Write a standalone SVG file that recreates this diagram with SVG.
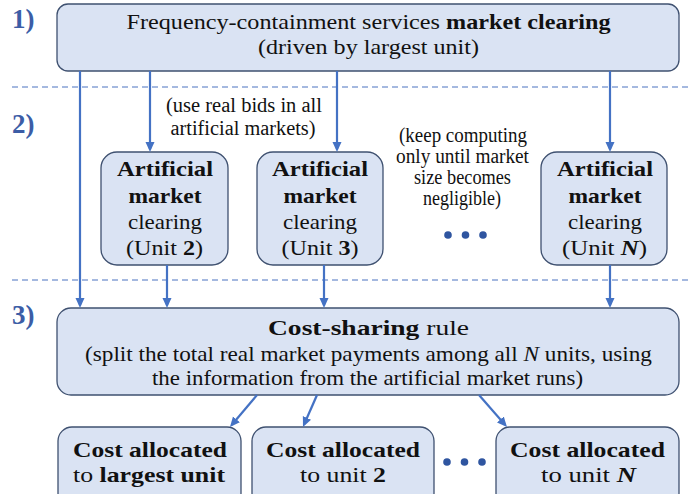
<svg xmlns="http://www.w3.org/2000/svg" width="688" height="494" viewBox="0 0 688 494" font-family="Liberation Serif, serif">
<style>
text{fill:#111;text-anchor:middle}
.box{fill:#dae3f3;stroke:#3f5170;stroke-width:1.3}
.t22{font-size:22px}
.t20{font-size:20px}
.b{font-weight:bold}
.i{font-style:italic}
.dot{fill:#2f55a0}
</style>
<defs>
<marker id="ah" markerUnits="userSpaceOnUse" markerWidth="11" markerHeight="10" refX="7" refY="4.5" orient="auto">
<path d="M0,0 L10,4.5 L0,9 z" fill="#4472c4"/>
</marker>
</defs>
<rect width="688" height="494" fill="#fff"/>

<g id="separators" stroke="#4a72c0" stroke-width="1" stroke-dasharray="6 4" fill="none">
<line x1="12" y1="87" x2="688" y2="87"/>
<line x1="12" y1="280" x2="688" y2="280"/>
</g>

<g id="step-labels" font-family="Liberation Serif, serif" font-size="27" font-weight="bold">
<text x="12" y="28" fill="#3c5da6" text-anchor="start" style="fill:#3c5da6;text-anchor:start">1)</text>
<text x="12" y="133" fill="#3c5da6" text-anchor="start" style="fill:#3c5da6;text-anchor:start">2)</text>
<text x="12" y="324" fill="#3c5da6" text-anchor="start" style="fill:#3c5da6;text-anchor:start">3)</text>
</g>

<g id="n-market" font-family="Liberation Serif, serif">
<rect class="box" x="57" y="4" width="622" height="67" rx="11"/>
<text class="t22" x="368.5" y="29" textLength="484" lengthAdjust="spacingAndGlyphs">Frequency-containment services <tspan class="b">market clearing</tspan></text>
<text class="t22" x="368.5" y="54" textLength="221" lengthAdjust="spacingAndGlyphs">(driven by largest unit)</text>
</g>

<g id="note-bids" font-family="Liberation Serif, serif">
<text class="t20" x="244" y="112" textLength="156" lengthAdjust="spacingAndGlyphs">(use real bids in all</text>
<text class="t20" x="243" y="135" textLength="145" lengthAdjust="spacingAndGlyphs">artificial markets)</text>
</g>

<g id="note-keep" font-family="Liberation Serif, serif">
<text class="t20" x="463" y="142" textLength="128" lengthAdjust="spacingAndGlyphs">(keep computing</text>
<text class="t20" x="462.5" y="163" textLength="133" lengthAdjust="spacingAndGlyphs">only until market</text>
<text class="t20" x="462.5" y="184" textLength="97" lengthAdjust="spacingAndGlyphs">size becomes</text>
<text class="t20" x="462" y="205" textLength="78" lengthAdjust="spacingAndGlyphs">negligible)</text>
</g>

<g id="n-art2" font-family="Liberation Serif, serif">
<rect class="box" x="101" y="152" width="127" height="113" rx="16"/>
<text class="t22 b" x="165" y="176" textLength="96" lengthAdjust="spacingAndGlyphs">Artificial</text>
<text class="t22 b" x="165" y="203" textLength="73" lengthAdjust="spacingAndGlyphs">market</text>
<text class="t22" x="165" y="229" textLength="74" lengthAdjust="spacingAndGlyphs">clearing</text>
<text class="t22" x="164.5" y="255" textLength="77" lengthAdjust="spacingAndGlyphs">(Unit <tspan class="b">2</tspan>)</text>
</g>

<g id="n-art3" font-family="Liberation Serif, serif">
<rect class="box" x="257" y="152" width="126" height="113" rx="16"/>
<text class="t22 b" x="320" y="176" textLength="96" lengthAdjust="spacingAndGlyphs">Artificial</text>
<text class="t22 b" x="320" y="203" textLength="73" lengthAdjust="spacingAndGlyphs">market</text>
<text class="t22" x="320" y="229" textLength="74" lengthAdjust="spacingAndGlyphs">clearing</text>
<text class="t22" x="320" y="255" textLength="77" lengthAdjust="spacingAndGlyphs">(Unit <tspan class="b">3</tspan>)</text>
</g>

<g id="dots-art">
<circle class="dot" cx="448" cy="235" r="3.8"/>
<circle class="dot" cx="465.5" cy="235" r="3.8"/>
<circle class="dot" cx="483" cy="235" r="3.8"/>
</g>

<g id="n-artN" font-family="Liberation Serif, serif">
<rect class="box" x="541" y="152" width="126" height="113" rx="16"/>
<text class="t22 b" x="605" y="176" textLength="96" lengthAdjust="spacingAndGlyphs">Artificial</text>
<text class="t22 b" x="605" y="203" textLength="73" lengthAdjust="spacingAndGlyphs">market</text>
<text class="t22" x="605" y="229" textLength="74" lengthAdjust="spacingAndGlyphs">clearing</text>
<text class="t22" x="604.5" y="255" textLength="85" lengthAdjust="spacingAndGlyphs">(Unit <tspan class="b i">N</tspan>)</text>
</g>

<g id="n-cost" font-family="Liberation Serif, serif">
<rect class="box" x="57" y="308" width="622" height="87" rx="14"/>
<text class="t22" x="368.5" y="335" textLength="201" lengthAdjust="spacingAndGlyphs"><tspan class="b">Cost-sharing</tspan> rule</text>
<text class="t22" x="368.5" y="361" textLength="567" lengthAdjust="spacingAndGlyphs">(split the total real market payments among all <tspan class="i">N</tspan> units, using</text>
<text class="t22" x="367.5" y="385" textLength="431" lengthAdjust="spacingAndGlyphs">the information from the artificial market runs)</text>
</g>

<g id="n-alloc1" font-family="Liberation Serif, serif">
<rect class="box" x="58" y="427" width="183" height="80" rx="14"/>
<text class="t22 b" x="150" y="457" textLength="154" lengthAdjust="spacingAndGlyphs">Cost allocated</text>
<text class="t22" x="149" y="482" textLength="152" lengthAdjust="spacingAndGlyphs">to <tspan class="b">largest unit</tspan></text>
</g>

<g id="n-alloc2" font-family="Liberation Serif, serif">
<rect class="box" x="252" y="427" width="182" height="80" rx="14"/>
<text class="t22 b" x="343" y="457" textLength="154" lengthAdjust="spacingAndGlyphs">Cost allocated</text>
<text class="t22" x="343" y="482" textLength="86" lengthAdjust="spacingAndGlyphs">to unit <tspan class="b">2</tspan></text>
</g>

<g id="dots-alloc">
<circle class="dot" cx="447" cy="462" r="3.8"/>
<circle class="dot" cx="464.5" cy="462" r="3.8"/>
<circle class="dot" cx="482" cy="462" r="3.8"/>
</g>

<g id="n-allocN" font-family="Liberation Serif, serif">
<rect class="box" x="496" y="427" width="183" height="80" rx="14"/>
<text class="t22 b" x="587.5" y="457" textLength="155" lengthAdjust="spacingAndGlyphs">Cost allocated</text>
<text class="t22" x="588.5" y="482" textLength="95" lengthAdjust="spacingAndGlyphs">to unit <tspan class="b i">N</tspan></text>
</g>

<g id="connectors" stroke="#4472c4" stroke-width="2.2" fill="none" marker-end="url(#ah)">
<line x1="80" y1="71" x2="80" y2="305" marker-end="url(#ah)"/>
<line x1="150" y1="71" x2="150" y2="149" marker-end="url(#ah)"/>
<line x1="337" y1="71" x2="337" y2="149" marker-end="url(#ah)"/>
<line x1="610" y1="71" x2="610" y2="149" marker-end="url(#ah)"/>
<line x1="167" y1="265" x2="167" y2="305" marker-end="url(#ah)"/>
<line x1="324" y1="265" x2="324" y2="305" marker-end="url(#ah)"/>
<line x1="610" y1="265" x2="610" y2="305" marker-end="url(#ah)"/>
<line x1="257" y1="395" x2="231.9" y2="424.7" marker-end="url(#ah)"/>
<line x1="317" y1="395" x2="304.2" y2="424.3" marker-end="url(#ah)"/>
<line x1="479" y1="395" x2="505" y2="424.7" marker-end="url(#ah)"/>
</g>
</svg>
